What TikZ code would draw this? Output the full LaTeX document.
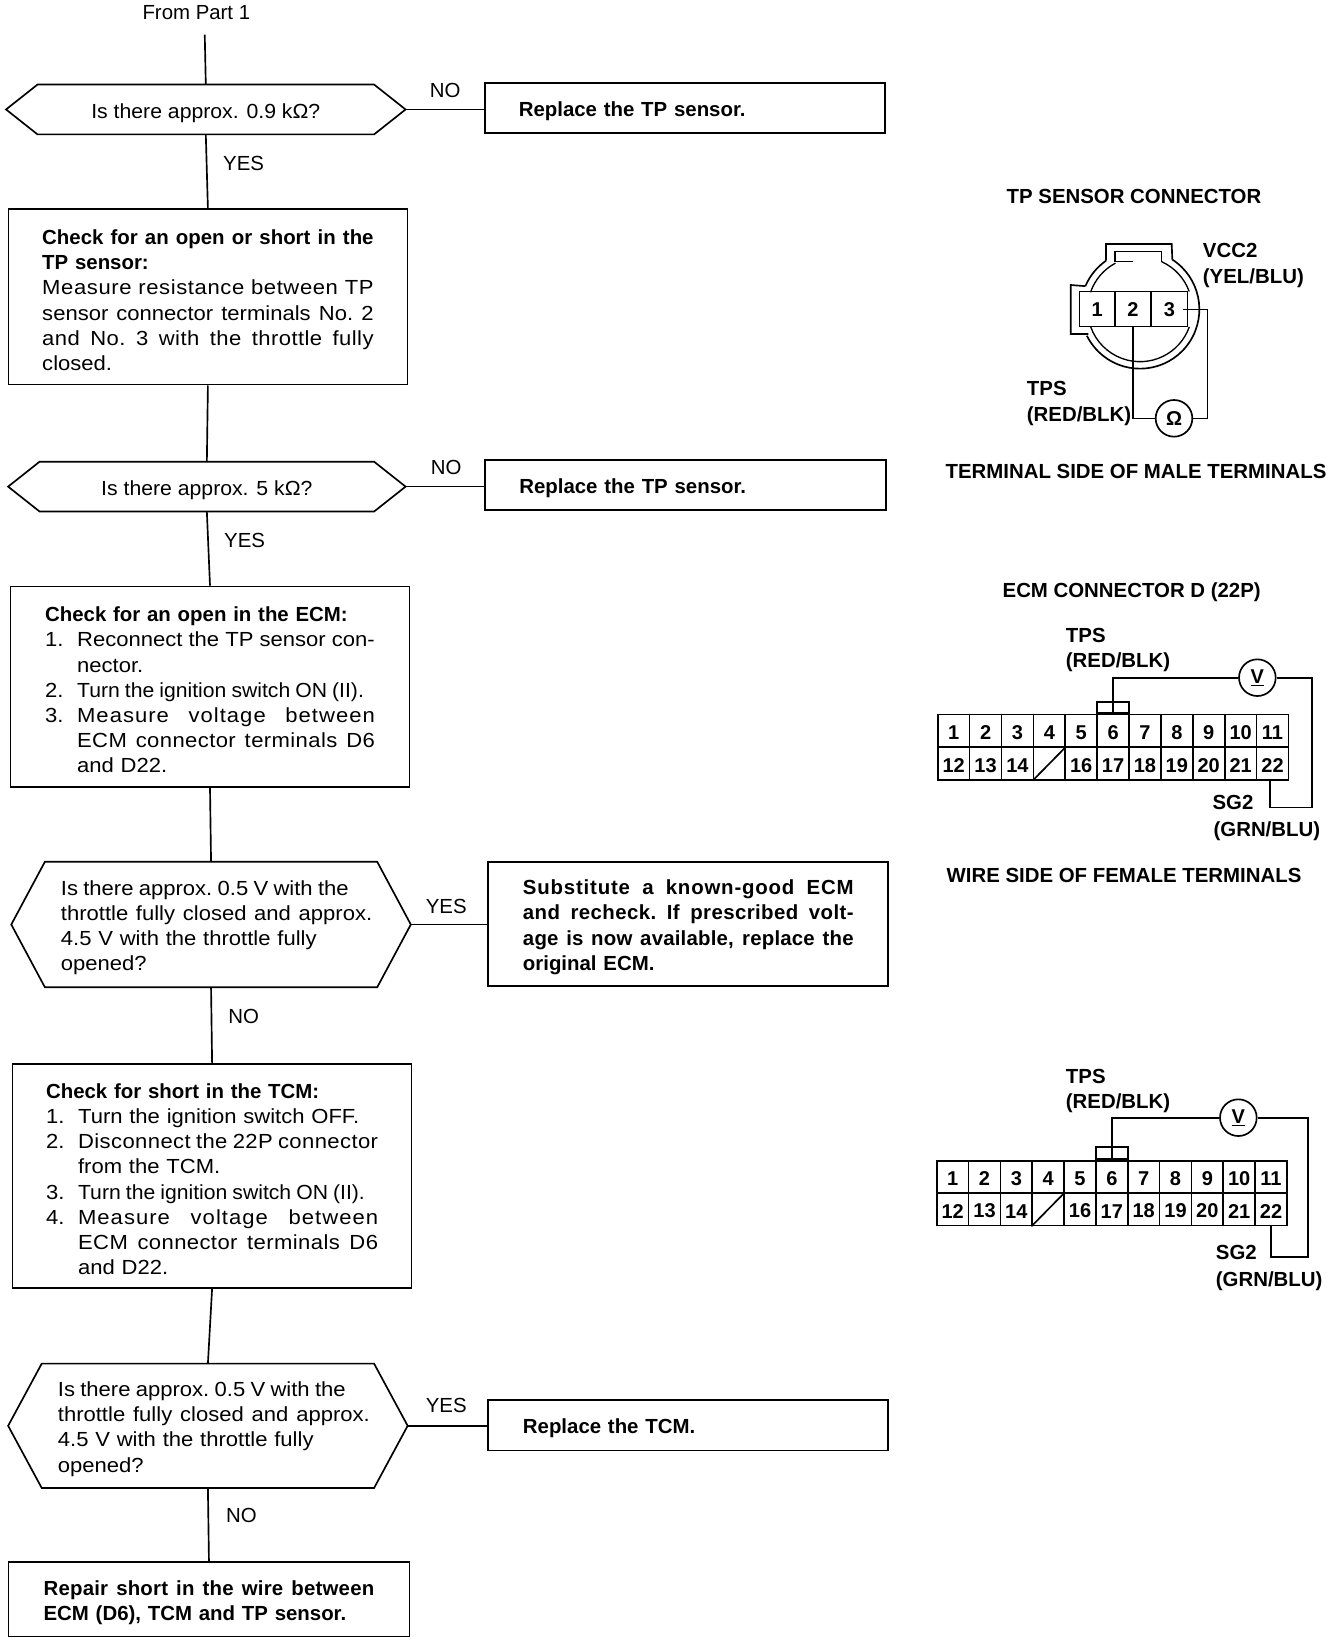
\documentclass[tikz,border=0pt]{standalone}
\usepackage{fontspec}
\usepackage{graphicx}
\setmainfont{Liberation Sans}
\newfontfamily\wide{Liberation Sans}[FakeStretch=1.08]
\newfontfamily\widea{Liberation Sans}[FakeStretch=1.04]
\usetikzlibrary{calc}
\newlength\hang
\setlength\hang{24pt}
\newcommand\JJ[2]{\makebox[#1][s]{\spaceskip=.28em plus 1em minus .05em\relax\xspaceskip=\spaceskip #2}}
\newcommand\JL[3]{\JJ{#2}{\addfontfeature{LetterSpace=#1}#3}}
\newcommand\B[1]{{\rmfamily\bfseries #1}}
\newcommand\Tight[1]{{\spaceskip=.26em\relax\xspaceskip=\spaceskip #1}}
\newcommand\Item[2]{\makebox[\hang][l]{#1}#2}
\newcommand\Ind{\hspace*{\hang}}
\newcommand\hexo[2]{\draw[ln] (#1.west) -- ($(#1.north west)+(#2,0)$) -- ($(#1.north east)-(#2,0)$) -- (#1.east) -- ($(#1.south east)-(#2,0)$) -- ($(#1.south west)+(#2,0)$) -- cycle;}
\tikzset{
  txt/.style={font=\fontsize{15.3}{18.9}\selectfont,inner sep=0pt},
  ln/.style={line width=1.25pt,black},
  box/.style={draw,ln,font=\fontsize{15.3}{18.9}\selectfont\wide,inner sep=0pt,align=left,execute at begin node={\rule{0pt}{16pt}}},
  hex/.style={font=\fontsize{15.3}{18.9}\selectfont\wide,inner sep=0pt,align=left,execute at begin node={\rule{0pt}{16pt}}},
  lab/.style={txt,anchor=center},
  blab/.style={txt,font=\fontsize{15.3}{18.9}\selectfont\bfseries},
  llab/.style={blab,anchor=west},
  conn/.style={shift={(690pt,-#1)},x=0.25pt,y=-0.25pt},
  cell/.style={draw,ln,inner sep=0pt,minimum width=23.9pt,minimum height=24.3pt,font=\fontsize{15}{18}\selectfont\bfseries,execute at begin node={\rule{0pt}{13pt}}},
  pin/.style={draw,line width=1pt,inner sep=0pt,minimum width=26.9pt,minimum height=26.2pt,font=\fontsize{15}{18}\selectfont\bfseries},
  meter/.style={draw,ln,circle,inner sep=0pt,minimum size=27.5pt,font=\fontsize{15}{18}\selectfont\bfseries},
}
\begin{document}
\begin{tikzpicture}[x=0.7875pt,y=-0.7857pt]
\useasboundingbox (0pt,0pt) rectangle (1008pt,-1233pt);
\fill[white] (0pt,0pt) rectangle (1008pt,-1233pt);
% flow chart
\node[lab] (from) at (187,12) {From Part 1};
\coordinate (start) at (195,33);

\node[hex,minimum width=299.25pt,minimum height=37pt] (h1) at (196,104.5) {\widea Is there approx. 0.9 kΩ?};
\hexo{h1}{30}
\node[box,minimum width=300pt,minimum height=37.8pt,text width=249.5pt] (r1) at (652.5,103) {\B{Replace the TP sensor.}};

\node[box,minimum width=299.25pt,minimum height=131.5pt,text width=248.5pt] (b1) at (198,283.5) {%
\B{\JJ{248.5pt}{Check for an open or short in the}}\\
\B{TP sensor:}\\
\JL{3}{248.5pt}{Measure resistance between TP}\\
\JJ{248.5pt}{sensor connector terminals No. 2}\\
\JL{2}{248.5pt}{and No. 3 with the throttle fully}\\
closed.};

\node[hex,minimum width=297.7pt,minimum height=37pt] (h2) at (197,464.5) {\widea Is there approx. 5 kΩ?};
\hexo{h2}{30}
\node[box,minimum width=300.8pt,minimum height=37.8pt,text width=249.5pt] (r2) at (653,463) {\B{Replace the TP sensor.}};

\node[box,minimum width=299.25pt,minimum height=150.4pt,text width=247.3pt] (b2) at (200,655.5) {%
\B{Check for an open in the ECM:}\\
\Item{1.}{\JJ{223.3pt}{Reconnect the TP sensor con-}}\\
\Ind nector.\\
\Item{2.}{\scalebox{.96}[1]{\Tight{Turn the ignition switch ON (II).}}}\\
\Item{3.}{\JL{5}{223.3pt}{Measure voltage between}}\\
\Ind\JL{2}{223.3pt}{ECM connector terminals D6}\\
\Ind and D22.};

\node[hex,minimum width=299.25pt,minimum height=93.7pt,text width=241pt] (h3) at (201,882.5) {%
\hspace*{7.9pt}\Tight{Is there approx. 0.5 V with the}\\
\hspace*{7.9pt}\JJ{233.5pt}{throttle fully closed and approx.}\\
\hspace*{7.9pt}4.5 V with the throttle fully\\
\hspace*{7.9pt}opened?};
\hexo{h3}{32}
\node[box,minimum width=300pt,minimum height=92.9pt,text width=248pt] (r3) at (655.5,882) {%
\B{\JL{4}{248pt}{Substitute a known-good ECM}}\\
\B{\JL{2}{248pt}{and recheck. If prescribed volt-}}\\
\B{\JL{1}{248pt}{age is now available, replace the}}\\
\B{original ECM.}};

\node[box,minimum width=299.25pt,minimum height=167.7pt,text width=249pt] (b3) at (202,1122.5) {%
\B{Check for short in the TCM:}\\
\Item{1.}{Turn the ignition switch OFF.}\\
\Item{2.}{\JL{2}{225pt}{Disconnect the 22P connector}}\\
\Ind from the TCM.\\
\Item{3.}{\scalebox{.96}[1]{\Tight{Turn the ignition switch ON (II).}}}\\
\Item{4.}{\JL{5}{225pt}{Measure voltage between}}\\
\Ind\JL{2}{225pt}{ECM connector terminals D6}\\
\Ind and D22.};

\node[hex,minimum width=299.25pt,minimum height=92.9pt,text width=243pt] (h4) at (198,1361) {%
\hspace*{9pt}\Tight{Is there approx. 0.5 V with the}\\
\hspace*{9pt}\JJ{234pt}{throttle fully closed and approx.}\\
\hspace*{9pt}4.5 V with the throttle fully\\
\hspace*{9pt}opened?};
\hexo{h4}{32}
\node[box,minimum width=300pt,minimum height=37.8pt,text width=248pt] (r4) at (655.5,1360.5) {\B{Replace the TCM.}};

\node[box,minimum width=300.8pt,minimum height=55.9pt,text width=248pt] (b4) at (199,1526.5) {%
\B{\JL{1}{248pt}{Repair short in the wire between}}\\
\B{ECM (D6), TCM and TP sensor.}};

\draw[ln] (start) -- (h1.north);
\draw[ln] (h1.south) -- (b1.north);
\draw[ln] (h1.east) -- (r1.west |- h1.east);
\draw[ln] (b1.south) -- (h2.north);
\draw[ln] (h2.south) -- (b2.north);
\draw[ln] (h2.east) -- (r2.west |- h2.east);
\draw[ln] (b2.south) -- (h3.north);
\draw[ln] (h3.south) -- (b3.north);
\draw[ln] (h3.east) -- (r3.west |- h3.east);
\draw[ln] (b3.south) -- (h4.north);
\draw[ln] (h4.south) -- (b4.north);
\draw[ln] (h4.east) -- (r4.west |- h4.east);

\node[lab] (l1) at (424,86) {NO};
\node[lab] (l2) at (232,156) {YES};
\node[lab] (l3) at (425,446) {NO};
\node[lab] (l4) at (233,516) {YES};
\node[lab] (l5) at (425,865) {YES};
\node[lab] (l6) at (232,970) {NO};
\node[lab] (l7) at (425,1342) {YES};
\node[lab] (l8) at (230,1447) {NO};

% TP sensor connector
\begin{scope}[conn=127.5pt]
\node[blab] (t1) at (642,78) {TP SENSOR CONNECTOR};
\node[blab] (t2) at (648,905) {TERMINAL SIDE OF MALE TERMINALS};
\coordinate (cc) at (660,418);
\draw[ln] (cc) ++(-57:178) arc[start angle=-57,end angle=153.6,radius=178];
\draw[ln] (cc) ++(203:178) arc[start angle=203,end angle=235,radius=178];
\draw[ln] (cc) ++(-57:178) -- (755,222) -- (558,222) -- (558,272);
\draw[ln] (cc) ++(203:178) -- (452,345) -- (452,492) -- (505,492);
\draw[line width=1pt] (640,275) -- (585,275) -- (585,245) -- (725,245) -- (725,275);
\draw[line width=1pt] (cc) ++(-65.5:157) arc[start angle=-65.5,end angle=-20,radius=157];
\draw[line width=1pt] (cc) ++(242:157) arc[start angle=242,end angle=199,radius=157];
\draw[line width=1pt] (cc) ++(19.6:157) arc[start angle=19.6,end angle=160.4,radius=157];
\node[pin] (p1) at (531.5,417.5) {1};
\node[pin] (p2) at (639,417.5) {2};
\node[pin] (p3) at (748,417.5) {3};
\node[meter] (ohm) at (762,745) {Ω};
\coordinate (wr) at (862,418);
\coordinate (wt) at (790,418);
\draw[ln] (p2.south) |- (ohm.west);
\draw[line width=1pt] (ohm.east) -| (wr) -- (wt);
\node[llab] (v1) at (848,240) {VCC2};
\node[llab] (v2) at (848,325) {(YEL/BLU)};
\node[llab] (v3) at (320,655) {TPS};
\node[llab] (v4) at (320,740) {(RED/BLK)};
\end{scope}

% ECM connector (with title)
\begin{scope}[conn=427.5pt]
\node[blab] (t3) at (635,68) {ECM CONNECTOR D (22P)};
\node[blab] (t4) at (612,915) {WIRE SIDE OF FEMALE TERMINALS};
\foreach \n [count=\i from 0] in {1,...,11}
  \node[cell] (a\n) at (101+95.65*\i,482) {\n};
\foreach \n [count=\i from 0] in {12,13,14,,16,17,18,19,20,21,22}
  \node[cell] (a\n-x) at (101+95.65*\i,581) {\n};
\draw[ln] (a-x.south west) -- (a-x.north east);
\node[draw,ln,minimum width=24pt,minimum height=8pt,inner sep=0pt,anchor=south] (ah) at (a6.north) {};
\node[meter] (av) at (1012,323) {\underline{V}};
\coordinate (ar) at (1175,712);
\coordinate (ab) at (1050,712);
\draw[ln] (a6.north) |- (av.west);
\draw[ln] (av.east) -| (ar) -- (ab) -- (ab |- a22-x.south);
\node[llab] (e1) at (437,197) {TPS};
\node[llab] (e2) at (437,277) {(RED/BLK)};
\node[llab] (e3) at (877,698) {SG2};
\node[llab] (e4) at (880,783) {(GRN/BLU)};
\end{scope}

% TCM connector
\begin{scope}[conn=787.5pt]
\foreach \n [count=\i from 0] in {1,...,11}
  \node[cell] (b\n) at (98+95.5*\i,381.5) {\n};
\foreach \n [count=\i from 0] in {12,13,14,,16,17,18,19,20,21,22}
  \node[cell] (b\n-x) at (98+95.5*\i,478) {\n};
\draw[ln] (b-x.south west) -- (b-x.north east);
\node[draw,ln,minimum width=24pt,minimum height=9pt,inner sep=0pt,anchor=south] (bh) at (b6.north) {};
\node[meter] (bv) at (955,203) {\underline{V}};
\coordinate (br) at (1163,620);
\coordinate (bb) at (1052,620);
\draw[ln] (b6.north) |- (bv.west);
\draw[ln] (bv.east) -| (br) -- (bb) -- (bb |- b22-x.south);
\node[llab] (f1) at (437,80) {TPS};
\node[llab] (f2) at (437,160) {(RED/BLK)};
\node[llab] (f3) at (887,607) {SG2};
\node[llab] (f4) at (887,693) {(GRN/BLU)};
\end{scope}
\end{tikzpicture}
\end{document}
